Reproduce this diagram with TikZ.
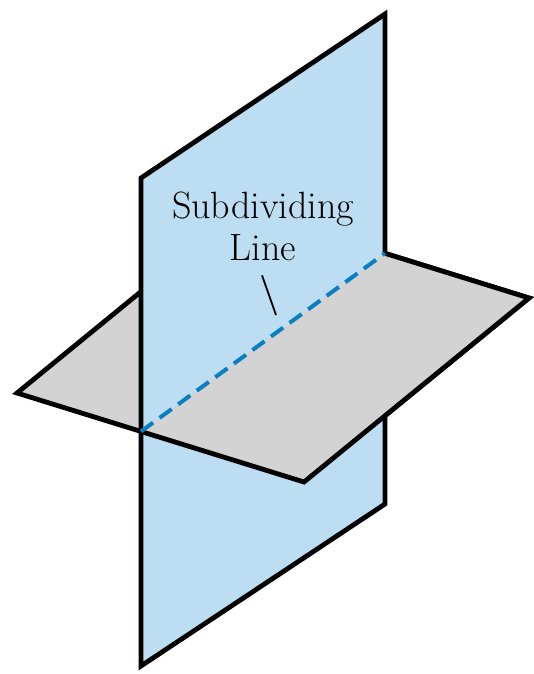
\documentclass[tikz,border=0pt]{standalone}
\usepackage{xcolor}
\usepackage{tikz}
\usetikzlibrary{calc}
\definecolor{planeblue}{RGB}{189,221,242}
\definecolor{planegray}{RGB}{211,211,211}
\definecolor{cutblue}{RGB}{10,128,192}
\tikzset{
  vplane/.style={fill=planeblue,draw=black,line width=2.4pt},
  hplane/.style={fill=planegray,draw=black,line width=2.4pt},
  frontedge/.style={draw=black,line width=2.4pt},
  cutline/.style={line width=2pt,cutblue,dash pattern=on 7.5pt off 4pt},
  leader/.style={line width=.9pt,black},
  lab/.style={font=\fontsize{19}{21}\selectfont,align=center,inner sep=0pt}
}
\begin{document}
\begin{tikzpicture}[x=0.5pt,y=-0.5pt]
  \useasboundingbox (0,0) rectangle (534,674);
  % corners of the two planes
  \coordinate (L) at (17,393);
  \coordinate (B) at (242,209);
  \coordinate (R) at (529,298);
  \coordinate (D) at (304,482);
  \coordinate (TL) at (141,178);
  \coordinate (TR) at (385,14);
  \coordinate (BR) at (385,504);
  \coordinate (BL) at (141,666);
  % where they cross
  \coordinate (I1) at ($(L)!0.432!(D)$);
  \coordinate (I2) at ($(B)!0.498!(R)$);
  % back half of the horizontal plane, then the vertical one
  \filldraw[hplane] (L) -- (B) -- (R) -- (D) -- cycle;
  \filldraw[vplane] (TL) -- (TR) -- (BR) -- (BL) -- cycle;
  % front half of the horizontal plane
  \fill[planegray] (I1) -- (D) -- (R) -- (I2) -- cycle;
  \draw[frontedge] (I1) -- (D) -- (R) -- (I2);
  \draw[cutline] (I1) -- (I2);
  \node[lab] (sub) at (263,226.5) {Subdividing\\Line};
  \coordinate (tip) at (276,315);
  \draw[leader] ([shift={(-1,14)}]sub.south) -- (tip);
\end{tikzpicture}
\end{document}
